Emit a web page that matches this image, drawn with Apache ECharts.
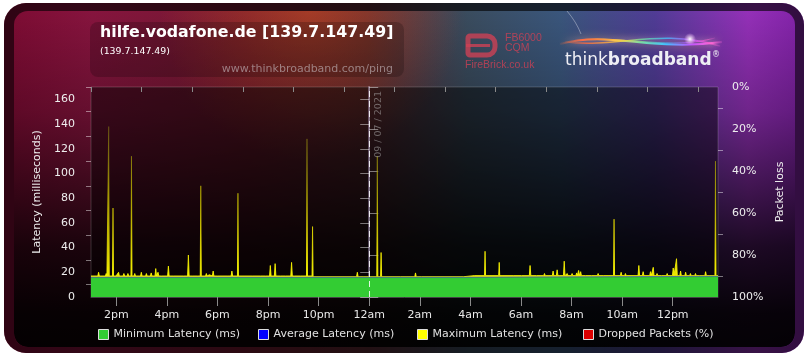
<!DOCTYPE html>
<html>
<head>
<meta charset="utf-8">
<script src="https://cdn.jsdelivr.net/npm/echarts@6/dist/echarts.min.js"></script>
<style>
html,body{margin:0;padding:0;background:#ffffff;}
#chart{width:808px;height:359px;}
</style>
</head>
<body>
<div id="chart"></div>
<script>
// ---- data (hours relative to midnight 09/07/2021, latency in ms) ----
const titleText = 'hilfe.vodafone.de [139.7.147.49]';
const subText = '(139.7.147.49)';
const urlText = 'www.thinkbroadband.com/ping';
const dateLabel = '09 / 07 / 2021';

const xTickHours = [-10,-8,-6,-4,-2,0,2,4,6,8,10,12];
const xTickLabels = ['2pm','4pm','6pm','8pm','10pm','12am','2am','4am','6am','8am','10am','12pm'];
const xMinorHours = [-11,-9,-7,-5,-3,-1,1,3,5,7,9,11,13];
const yTicks = [0,20,40,60,80,100,120,140,160];
const yMinor = [10,30,50,70,90,110,130,150,170];
const lossTicks = [0,20,40,60,80,100];
const lossMinor = [10,30,50,70,90];

const minLatency = [[-11,15.7],[3.72,15.7],[3.76,16.5],[13.79,16.5]];
const avgLatency = [[-11,16.0],[3.72,16.0],[3.76,16.8],[13.79,16.8]];
const droppedPackets = [[-11,0],[13.79,0]];

const maxLatency = [
[-11.00,17.0],[-10.96,18.4],[-10.93,17.0],
[-10.73,17.0],[-10.70,20],[-10.67,17.0],
[-10.43,17.0],[-10.40,19],[-10.37,17.0],
[-10.32,17.0],[-10.30,138],[-10.28,17.0],
[-10.15,17.0],[-10.13,72],[-10.11,17.0],
[-10.07,17.0],[-10.04,18],[-10.01,17.0],
[-9.94,17.0],[-9.91,20],[-9.88,17.0],
[-9.73,17.0],[-9.70,19],[-9.67,17.0],
[-9.57,17.0],[-9.54,19],[-9.51,17.0],
[-9.42,17.0],[-9.40,114],[-9.38,17.0],
[-9.30,17.0],[-9.27,19],[-9.24,17.0],
[-9.04,17.0],[-9.01,20],[-8.98,17.0],
[-8.84,17.0],[-8.81,19],[-8.78,17.0],
[-8.65,17.0],[-8.62,19.5],[-8.59,17.0],
[-8.47,17.0],[-8.44,23],[-8.41,17.0],
[-8.38,17.0],[-8.35,20],[-8.32,17.0],
[-8.28,17.0],[-8.25,18],[-8.22,17.0],
[-7.97,17.0],[-7.94,25],[-7.91,17.0],
[-7.75,17.0],[-7.72,18],[-7.69,17.0],
[-7.52,17.0],[-7.49,18],[-7.46,17.0],
[-7.35,17.0],[-7.32,18],[-7.29,17.0],
[-7.18,17.0],[-7.15,34],[-7.12,17.0],
[-7.00,17.0],[-6.97,17.5],[-6.94,17.0],
[-6.80,17.0],[-6.77,18],[-6.74,17.0],
[-6.68,17.0],[-6.66,90],[-6.64,17.0],
[-6.47,17.0],[-6.44,19],[-6.41,17.0],
[-6.35,17.0],[-6.32,18],[-6.29,17.0],
[-6.20,17.0],[-6.17,21],[-6.14,17.0],
[-6.01,17.0],[-5.98,17.5],[-5.95,17.0],
[-5.62,17.0],[-5.59,17.5],[-5.56,17.0],
[-5.46,17.0],[-5.43,21],[-5.40,17.0],
[-5.21,17.0],[-5.19,84],[-5.17,17.0],
[-4.95,17.0],[-4.92,17.5],[-4.89,17.0],
[-4.63,17.0],[-4.60,17.5],[-4.57,17.0],
[-4.30,17.0],[-4.27,17.5],[-4.24,17.0],
[-4.10,17.0],[-4.07,18],[-4.04,17.0],
[-3.94,17.0],[-3.91,25.5],[-3.88,17.0],
[-3.75,17.0],[-3.72,27],[-3.69,17.0],
[-3.51,17.0],[-3.48,17.5],[-3.45,17.0],
[-3.31,17.0],[-3.28,17.5],[-3.25,17.0],
[-3.10,17.0],[-3.07,28],[-3.04,17.0],
[-2.95,17.0],[-2.92,17.5],[-2.89,17.0],
[-2.72,17.0],[-2.69,17.5],[-2.66,17.0],
[-2.58,17.0],[-2.55,17.5],[-2.52,17.0],
[-2.48,17.0],[-2.46,128],[-2.44,17.0],
[-2.26,17.0],[-2.24,57],[-2.22,16.4],
[-0.50,16.4],[-0.47,20],[-0.44,16.4],
[-0.21,16.4],[-0.18,18],[-0.15,16.4],
[0.30,16.4],[0.32,114],[0.34,16.4],
[0.45,16.4],[0.47,36],[0.49,16.4],
[1.23,16.4],[1.26,17.5],[1.29,16.4],
[1.80,16.4],[1.83,19.5],[1.86,16.4],
[2.06,16.4],[2.09,17],[2.12,16.4],
[3.72,16.4],[3.76,17.3],
[4.15,17.3],[4.18,17.8],[4.21,17.3],
[4.56,17.3],[4.58,37],[4.60,17.3],
[5.12,17.3],[5.14,28],[5.16,17.3],
[5.69,17.3],[5.72,17.8],[5.75,17.3],
[6.02,17.3],[6.05,17.8],[6.08,17.3],
[6.33,17.3],[6.36,25.5],[6.39,17.3],
[6.61,17.3],[6.64,17.8],[6.67,17.3],
[6.90,17.3],[6.93,19],[6.96,17.3],
[7.07,17.3],[7.10,18],[7.13,17.3],
[7.24,17.3],[7.27,21],[7.30,17.3],
[7.40,17.3],[7.43,22],[7.46,17.3],
[7.54,17.3],[7.57,17.8],[7.60,17.3],
[7.68,17.3],[7.71,29],[7.74,17.3],
[7.80,17.3],[7.83,19],[7.86,17.3],
[7.99,17.3],[8.02,19],[8.05,17.3],
[8.17,17.3],[8.20,19.5],[8.23,17.3],
[8.25,17.3],[8.28,21.5],[8.31,17.3],
[8.33,17.3],[8.36,20.5],[8.39,17.3],
[8.56,17.3],[8.59,18],[8.62,17.3],
[8.78,17.3],[8.81,18],[8.84,17.3],
[9.02,17.3],[9.05,19],[9.08,17.3],
[9.25,17.3],[9.28,17.8],[9.31,17.3],
[9.48,17.3],[9.51,18],[9.54,17.3],
[9.66,17.3],[9.68,63],[9.70,17.3],
[9.93,17.3],[9.96,20],[9.99,17.3],
[10.10,17.3],[10.13,19],[10.16,17.3],
[10.43,17.3],[10.46,18],[10.49,17.3],
[10.63,17.3],[10.66,25.5],[10.69,17.3],
[10.80,17.3],[10.83,20.5],[10.86,17.3],
[11.09,17.3],[11.12,20.5],[11.15,17.3],
[11.20,17.3],[11.23,24],[11.26,17.3],
[11.35,17.3],[11.38,19],[11.41,17.3],
[11.55,17.3],[11.58,18],[11.61,17.3],
[11.75,17.3],[11.78,19],[11.81,17.3],
[11.99,17.3],[12.02,23.5],[12.05,17.3],
[12.12,17.3],[12.15,31],[12.18,17.3],
[12.28,17.3],[12.31,21],[12.34,17.3],
[12.48,17.3],[12.51,20],[12.54,17.3],
[12.67,17.3],[12.70,19],[12.73,17.3],
[12.87,17.3],[12.90,19],[12.93,17.3],
[13.07,17.3],[13.10,17.8],[13.13,17.3],
[13.27,17.3],[13.30,20.5],[13.33,17.3],
[13.47,17.3],[13.50,17.8],[13.53,17.3],
[13.67,17.3],[13.69,110],[13.71,17.3],
[13.79,17.3]
];

const seriesNames = ['Minimum Latency (ms)','Average Latency (ms)','Maximum Latency (ms)','Dropped Packets (%)'];
const legendColors = ['#33cc33','#0000ff','#ffff00','#dd0000'];
const legendLefts = [98,258,417,583];

// ---- chart ----
const chart = echarts.init(document.getElementById('chart'), null, {renderer:'canvas'});
const FONT = 'DejaVu Sans';

const panelH = {type:'linear',x:0,y:0,x2:1,y2:0,colorStops:[
  {offset:0,color:'#7e0c34'},{offset:0.10,color:'#86143e'},{offset:0.30,color:'#721a30'},
  {offset:0.45,color:'#5c2a32'},{offset:0.58,color:'#3a4c5e'},{offset:0.70,color:'#3a567c'},
  {offset:0.82,color:'#503c96'},{offset:0.94,color:'#9430b8'},{offset:1,color:'#8424aa'}]};
const waveGrad = {type:'linear',x:0,y:0,x2:1,y2:0,colorStops:[
  {offset:0,color:'rgba(255,110,60,0)'},{offset:0.15,color:'#ff6a3a'},{offset:0.35,color:'#ffd040'},
  {offset:0.5,color:'#70e0a0'},{offset:0.65,color:'#40c0ff'},{offset:0.8,color:'#c050ff'},
  {offset:0.92,color:'#ff60d0'},{offset:1,color:'rgba(255,100,220,0)'}]};
const spikeGrad = {type:'linear',x:0,y:0,x2:0,y2:1,colorStops:[
  {offset:0,color:'rgba(130,120,20,0.45)'},{offset:0.45,color:'rgba(190,180,0,0.75)'},
  {offset:0.8,color:'rgba(235,225,0,0.95)'},{offset:1,color:'#ffff00'}]};

const legends = seriesNames.map((n,i)=>({
  data:[{name:n,itemStyle:{color:legendColors[i],borderColor:'#dddddd',borderWidth:1}}],
  left:legendLefts[i], top:329, padding:0, icon:'rect', itemWidth:10, itemHeight:10,
  selectedMode:false, textStyle:{color:'#e0e0e0',fontSize:11,fontFamily:FONT}
}));

const option = {
  animation:false,
  textStyle:{fontFamily:FONT},
  graphic:[
    {type:'rect',z:-100,silent:true,shape:{x:4,y:3,width:800,height:350,r:22},style:{fill:panelH}},
    {type:'rect',z:-99,silent:true,shape:{x:4,y:3,width:800,height:350,r:22},style:{fill:'rgba(0,0,0,0.62)'}},
    {type:'rect',z:-98,silent:true,shape:{x:14,y:11,width:781,height:336,r:14},style:{fill:panelH}},
    {type:'rect',z:-97,silent:true,shape:{x:14,y:11,width:781,height:336,r:14},style:{fill:{type:'radial',x:0.38,y:0.0,r:0.45,colorStops:[{offset:0,color:'rgba(215,80,30,0.55)'},{offset:1,color:'rgba(215,80,30,0)'}]}}},
    {type:'rect',z:-96,silent:true,shape:{x:14,y:11,width:781,height:336,r:14},style:{fill:{type:'linear',x:0,y:0,x2:0,y2:1,colorStops:[{offset:0,color:'rgba(0,0,0,0)'},{offset:0.3,color:'rgba(0,0,0,0.25)'},{offset:0.7,color:'rgba(0,0,0,0.8)'},{offset:0.9,color:'rgba(0,0,0,0.95)'},{offset:1,color:'rgba(0,0,0,0.97)'}]}}},
    {type:'bezierCurve',z:-95,silent:true,shape:{x1:567,y1:11,cpx1:573,cpy1:18,cpx2:578,cpy2:26,x2:581,y2:34},style:{stroke:'rgba(255,255,255,0.35)',lineWidth:1,fill:null}},
    // header box
    {type:'rect',z:-90,silent:true,shape:{x:90,y:22,width:314,height:55,r:8},style:{fill:'rgba(0,0,0,0.2)'}},
    {type:'text',z:-89,silent:true,style:{x:100,y:33,text:titleText,fill:'#ffffff',font:'bold 15.8px "DejaVu Sans"',verticalAlign:'middle'}},
    {type:'text',z:-89,silent:true,style:{x:100,y:52,text:subText,fill:'#ffffff',font:'9.4px "DejaVu Sans"',verticalAlign:'middle'}},
    {type:'text',z:-89,silent:true,style:{x:393,y:69,text:urlText,fill:'rgba(200,190,195,0.6)',font:'11px "DejaVu Sans"',align:'right',verticalAlign:'middle'}},
    // FireBrick logo
    {type:'rect',z:-89,silent:true,shape:{x:468,y:36,width:27,height:19,r:[2,8,8,2]},style:{fill:null,stroke:'rgba(205,65,85,0.8)',lineWidth:5}},
    {type:'line',z:-89,silent:true,shape:{x1:466,y1:45.5,x2:490,y2:45.5},style:{stroke:'rgba(205,65,85,0.8)',lineWidth:3}},
    {type:'text',z:-89,silent:true,style:{x:505,y:38,text:'FB6000',fill:'rgba(205,65,85,0.8)',font:'10.5px "Liberation Sans"',verticalAlign:'middle'}},
    {type:'text',z:-89,silent:true,style:{x:505,y:48,text:'CQM',fill:'rgba(205,65,85,0.8)',font:'10.5px "Liberation Sans"',verticalAlign:'middle'}},
    {type:'text',z:-89,silent:true,style:{x:465,y:65,text:'FireBrick.co.uk',fill:'rgba(205,65,85,0.8)',font:'10.5px "Liberation Sans"',verticalAlign:'middle'}},
    // thinkbroadband logo
    {type:'bezierCurve',z:-89,silent:true,shape:{x1:560,y1:44,cpx1:610,cpy1:30,cpx2:650,cpy2:52,x2:722,y2:42},style:{stroke:waveGrad,lineWidth:2,fill:null,shadowBlur:8,shadowColor:'rgba(255,200,120,0.8)'}},
    {type:'bezierCurve',z:-89,silent:true,shape:{x1:565,y1:42,cpx1:620,cpy1:48,cpx2:660,cpy2:28,x2:720,y2:46},style:{stroke:waveGrad,lineWidth:1.5,fill:null,opacity:0.8,shadowBlur:6,shadowColor:'rgba(200,160,255,0.8)'}},
    {type:'bezierCurve',z:-89,silent:true,shape:{x1:575,y1:40,cpx1:630,cpy1:36,cpx2:670,cpy2:50,x2:715,y2:38},style:{stroke:waveGrad,lineWidth:1,fill:null,opacity:0.7}},
    {type:'circle',z:-88,silent:true,shape:{cx:690,cy:39,r:6},style:{fill:{type:'radial',x:0.5,y:0.5,r:0.5,colorStops:[{offset:0,color:'rgba(255,255,255,1)'},{offset:1,color:'rgba(255,200,255,0)'}]}}},
    {type:'text',z:-88,silent:true,style:{x:565,y:61,text:'{a|think}{b|broadband}',fill:'#eeeef4',font:'17px "DejaVu Sans"',verticalAlign:'middle',
      rich:{a:{fontSize:17,fontFamily:FONT,color:'#e4e4ee'},b:{fontSize:17,fontFamily:FONT,fontWeight:'bold',color:'#f2f2f8'}}}},
    {type:'text',z:-88,silent:true,style:{x:712,y:55,text:'®',fill:'#eeeef4',font:'8px "DejaVu Sans"',verticalAlign:'middle'}}
  ],
  grid:{left:91,right:90,top:87,bottom:62,show:true,backgroundColor:'rgba(0,0,0,0.45)',borderColor:'rgba(255,255,255,0.18)',borderWidth:1,containLabel:false,outerBoundsMode:'none'},
  legend:legends,
  xAxis:[
    {type:'value',min:-11,max:13.79,position:'bottom',
     axisLine:{show:true,lineStyle:{color:'#444444'}},
     axisTick:{show:true,customValues:xTickHours,length:9,lineStyle:{color:'#8a8a8a'}},
     axisLabel:{customValues:xTickHours,formatter:v=>xTickLabels[xTickHours.indexOf(v)],color:'#e8e8e8',fontSize:11,margin:13,align:'center',fontFamily:FONT},
     splitLine:{show:false}},
    {type:'value',min:-11,max:13.79,position:'bottom',
     axisLine:{show:false},
     axisTick:{show:true,customValues:xMinorHours,length:5,lineStyle:{color:'#8a8a8a'}},
     axisLabel:{show:false},splitLine:{show:false}}
  ],
  yAxis:[
    {type:'value',min:0,max:170,position:'left',
     name:'Latency (milliseconds)',nameLocation:'middle',nameGap:47,nameRotate:90,
     nameTextStyle:{color:'#eeeeee',fontSize:11,fontFamily:FONT},
     axisLine:{show:true,lineStyle:{color:'rgba(255,255,255,0.3)'}},
     axisTick:{show:true,customValues:yTicks,length:9,lineStyle:{color:'rgba(255,255,255,0.45)'}},
     axisLabel:{customValues:yTicks,color:'#eeeeee',fontSize:11,margin:16,align:'right',verticalAlign:'middle',fontFamily:FONT},
     splitLine:{show:false}},
    {type:'value',min:0,max:100,inverse:true,position:'right',
     name:'Packet loss',nameLocation:'middle',nameGap:50,nameRotate:90,
     nameTextStyle:{color:'#eeeeee',fontSize:11,fontFamily:FONT},
     axisLine:{show:true,lineStyle:{color:'rgba(210,190,235,0.4)',width:2}},
     axisTick:{show:true,customValues:lossTicks,length:9,lineStyle:{color:'rgba(255,255,255,0.45)'}},
     axisLabel:{customValues:lossTicks,formatter:'{value}%',color:'#eeeeee',fontSize:11,margin:14,align:'left',verticalAlign:'middle',fontFamily:FONT},
     splitLine:{show:false}},
    {type:'value',min:0,max:170,position:'left',
     axisLine:{show:false},
     axisTick:{show:true,customValues:yMinor,length:5,lineStyle:{color:'rgba(255,255,255,0.45)'}},
     axisLabel:{show:false},splitLine:{show:false}},
    {type:'value',min:0,max:100,inverse:true,position:'right',
     axisLine:{show:false},
     axisTick:{show:true,customValues:lossMinor,length:5,lineStyle:{color:'rgba(255,255,255,0.45)'}},
     axisLabel:{show:false},splitLine:{show:false}}
  ],
  series:[
    {name:'Maximum Latency (ms)',type:'line',xAxisIndex:0,yAxisIndex:0,data:maxLatency,
     showSymbol:false,symbol:'none',z:2,
     lineStyle:{color:spikeGrad,width:0.9},
     itemStyle:{color:'#ffff00'},
     areaStyle:{opacity:1,color:spikeGrad},
     markLine:{silent:true,symbol:'none',animation:false,
       lineStyle:{color:'rgba(255,255,255,0.85)',type:[6,4],width:1},
       label:{show:true,formatter:dateLabel,position:'insideEndBottom',distance:4,color:'rgba(190,190,190,0.5)',fontSize:9.5,fontFamily:FONT},
       data:[{xAxis:0}]}},
    {name:'Minimum Latency (ms)',type:'line',xAxisIndex:0,yAxisIndex:0,data:minLatency,
     showSymbol:false,symbol:'none',z:3,
     lineStyle:{color:'#2fa82f',width:1},itemStyle:{color:'#33cc33'},
     areaStyle:{color:'#33cc33',opacity:1}},
    {name:'Average Latency (ms)',type:'line',xAxisIndex:0,yAxisIndex:0,data:avgLatency,
     showSymbol:false,symbol:'none',z:4,
     lineStyle:{color:'rgba(80,90,190,0.7)',width:1},itemStyle:{color:'#0000ff'}},
    {name:'Dropped Packets (%)',type:'line',xAxisIndex:0,yAxisIndex:1,data:droppedPackets,
     showSymbol:false,symbol:'none',z:5,
     lineStyle:{opacity:0,width:0},itemStyle:{color:'#dd0000'},
     areaStyle:{color:'#dd0000',opacity:1}}
  ]
};
chart.setOption(option);
</script>
</body>
</html>
